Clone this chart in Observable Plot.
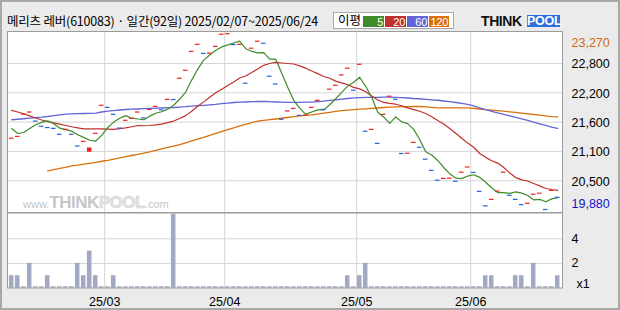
<!DOCTYPE html>
<html><head><meta charset="utf-8">
<script src="https://cdn.jsdelivr.net/npm/d3@7"></script>
<script src="https://cdn.jsdelivr.net/npm/@observablehq/plot@0.6"></script>
<style>
html,body{margin:0;padding:0;background:#ebebeb;}
#wrap{position:relative;width:620px;height:310px;background:#ebebeb;overflow:hidden;font-family:"Noto Sans CJK KR","Noto Sans",sans-serif;}
.abs{position:absolute;}
#border{position:absolute;left:0;top:0;width:620px;height:310px;box-sizing:border-box;border:2px solid #a8a8a8;pointer-events:none;}
#title{left:7px;top:13px;font-size:12.5px;line-height:16px;color:#000;white-space:nowrap;letter-spacing:-0.2px;}
#legend{left:333px;top:12px;width:121px;height:17px;box-sizing:border-box;border:1px solid #a8a8a8;background:#fff;}
#legend .lab{position:absolute;left:4px;top:-1px;font-size:12.5px;line-height:16px;color:#000;}
#legend .box{position:absolute;top:2.5px;height:11.5px;color:#fff;font-family:"Liberation Sans",Arial,sans-serif;font-size:11px;line-height:12px;text-align:right;box-sizing:border-box;padding-right:1px;letter-spacing:-0.3px;}
#logo{left:481px;top:13px;height:16px;}
#logo .think{position:absolute;left:0;top:0;font-family:"Liberation Sans",Arial,sans-serif;font-weight:bold;font-size:14px;line-height:16px;color:#111;letter-spacing:-0.4px;}
#logo .pool{position:absolute;left:46px;top:2px;width:33px;height:12px;background:#2f6fe0;color:#fff;font-family:"Liberation Sans",Arial,sans-serif;font-weight:bold;font-size:12.5px;line-height:12px;text-align:center;letter-spacing:-0.3px;}
#wm{left:23px;top:193px;color:#c6c6c6;font-family:"Liberation Sans",Arial,sans-serif;white-space:nowrap;}
#wm .s{font-size:11px;}
#wm .b{font-size:17px;font-weight:bold;letter-spacing:-0.5px;}
#wm .p{font-size:17px;font-weight:bold;color:#e6e6e6;-webkit-text-stroke:0.6px #cfcfcf;letter-spacing:-0.5px;}
</style></head><body>
<div id="wrap">
  <div id="price" class="abs" style="left:0;top:0"></div>
  <div id="volume" class="abs" style="left:0;top:212px"></div>
  <div id="title" class="abs">메리츠 레버(610083) · 일간(92일) 2025/02/07~2025/06/24</div>
  <div id="legend" class="abs"></div>
  <div id="logo" class="abs"><span class="think">THINK</span><span class="pool">POOL</span></div>
  <div id="wm" class="abs"><span class="s">www.</span><span class="b">THINK</span><span class="p">POOL</span><span class="s">.com</span></div>
  <div id="border"></div>
</div>
<script>
// ---- data ----
const startDate = "2025-02-07";
const endDate = "2025-06-24";
const holidays = ["2025-03-03","2025-05-01","2025-05-05","2025-05-06","2025-06-03","2025-06-06"];

const closes = [
21255,21290,21720,21760,21585,21485,21460,21445,21330,21425,
21330,21105,21195,21065,21350,21890,21850,21715,21450,21600,
21640,21760,21645,21810,21870,21800,22005,22000,22410,22565,
22930,23065,22890,22895,23025,23260,23270,23060,23065,22315,
22990,23125,23085,22450,22300,21620,21780,21830,21695,21700,
21850,21985,21810,22200,22275,22475,22605,22180,22680,21390,
21425,21155,21715,22065,22005,20960,20965,21175,21080,20850,
20635,20445,20480,20485,20425,20600,20700,20595,20230,19950,
20075,20235,20600,20155,20075,19975,20000,20175,20195,19880,
20250,20115];

const opens = [
21255,21290,21720,21760,21585,21485,21460,21445,21330,21425,
21330,21105,21195,21005,21350,21890,21850,21715,21450,21600,
21640,21760,21645,21810,21870,21800,22005,22000,22410,22565,
22930,23065,22890,22895,23025,23260,23270,23060,23065,22315,
22990,23125,23085,22450,22300,21620,21780,21830,21695,21700,
21850,21985,21810,22200,22275,22475,22605,22180,22680,21390,
21425,21155,21715,22065,22005,20960,20965,21175,21080,20850,
20635,20445,20480,20485,20425,20600,20700,20595,20230,19950,
20075,20235,20600,20155,20075,19975,20000,20175,20195,19880,
20250,20115];

const ma5 = [
21450,21355,21375,21450,21525,21570,21600,21545,21460,21430,
21400,21330,21280,21225,21210,21320,21470,21575,21650,21700,
21650,21635,21620,21690,21745,21775,21825,21900,22020,22155,
22385,22595,22770,22870,22960,23025,23065,23100,23135,22990,
22940,22910,22915,22790,22790,22515,22245,21995,21845,21725,
21770,21810,21810,21910,22025,22150,22270,22345,22440,22265,
22055,21765,21675,21550,21675,21580,21545,21435,21240,21005,
20940,20835,20700,20580,20495,20485,20535,20560,20510,20415,
20310,20215,20215,20200,20230,20205,20160,20075,20085,20040,
20095,20120];

const ma20 = [
21800,21770,21735,21695,21655,21615,21585,21560,21535,21510,
21485,21465,21445,21445,21445,21445,21440,21435,21450,21465,
21485,21510,21505,21510,21520,21535,21565,21595,21645,21700,
21785,21880,21965,22055,22140,22210,22280,22350,22425,22465,
22530,22600,22670,22705,22725,22715,22705,22695,22660,22615,
22560,22510,22455,22420,22365,22330,22295,22245,22215,22160,
22080,22000,21955,21935,21920,21890,21850,21815,21785,21740,
21680,21605,21540,21450,21360,21265,21170,21090,20970,20895,
20830,20785,20700,20595,20505,20460,20440,20390,20345,20295,
20275,20260];

const ma60 = [
21620,21630,21640,21650,21660,21670,21683,21700,21716,21730,
21735,21737,21741,21745,21747,21770,21785,21795,21808,21818,
21824,21828,21834,21838,21843,21847,21853,21857,21865,21872,
21882,21891,21899,21909,21918,21930,21942,21953,21959,21963,
21969,21972,21972,21969,21963,21959,21957,21957,21957,21959,
21959,21969,21980,21992,22003,22017,22030,22042,22046,22050,
22052,22053,22055,22055,22052,22046,22040,22030,22025,22015,
22005,21996,21982,21969,21953,21938,21918,21886,21847,21814,
21784,21751,21722,21695,21668,21639,21606,21573,21543,21510,
21479,21456];

const ma120 = [
null,null,null,null,null,null,20636,20658,20681,20704,
20729,20746,20764,20781,20800,20820,20839,20862,20885,20908,
20931,20954,20976,21001,21030,21059,21086,21111,21143,21176,
21211,21246,21280,21317,21356,21392,21429,21465,21500,21533,
21564,21593,21608,21622,21635,21649,21664,21681,21697,21706,
21714,21730,21747,21764,21782,21795,21807,21816,21824,21832,
21839,21847,21857,21865,21870,21872,21874,21876,21876,21868,
21859,21851,21851,21851,21851,21851,21851,21841,21828,21814,
21805,21795,21785,21774,21762,21749,21735,21722,21708,21695,
21681,21674];

const volumes = [
1,1,0,2,0,0,1,0,0,0,
0,2,1,3,1,0,0,1,0,0,
0,0,0,0,0,0,0,6,0,0,
0,0,0,0,0,0,0,0,0,0,
0,0,0,0,0,0,0,0,0,0,
0,0,0,0,0,0,1,0,1,2,
0,0,0,0,0,0,0,0,0,0,
0,0,0,0,0,0,0,0,0,1,
1,0,0,0,1,1,0,2,0,0,
0,1];

const gridValues = [22705, 22140, 21575, 21010, 20445];
const gridLabels = ["22,800", "22,200", "21,600", "21,100", "20,500"];
const volTicks = [2, 4];
const volLabels = ["2", "4"];
const volUnit = "x1";
const monthLabels = ["25/03", "25/04", "25/05", "25/06"];
const legendLabel = "이평";
const legendItems = ["5", "20", "60", "120"];

// ---- styling ----
const C5 = "#3f8b29", C20 = "#c0302c", C60 = "#6464d8", C120 = "#d8700c";
const legendColors = [C5, C20, C60, C120];
const UP = "#f41e1e", DOWN = "#2062e6", VOL = "#a2a9c2", GRID = "#d6d6d6", FRAME = "#9c9c9c";
const FONT = "'Liberation Sans', Arial, sans-serif";

// ---- trading dates ----
const dates = [];
for (let d = new Date(startDate + "T00:00:00Z"); d <= new Date(endDate + "T00:00:00Z"); d.setUTCDate(d.getUTCDate() + 1)) {
  const wd = d.getUTCDay(), s = d.toISOString().slice(0, 10);
  if (wd !== 0 && wd !== 6 && !holidays.includes(s)) dates.push(s);
}

const days = dates.map((date, i) => ({
  i, date, open: opens[i], close: closes[i], vol: volumes[i],
  ma5: ma5[i], ma20: ma20[i], ma60: ma60[i], ma120: ma120[i]
}));
days.forEach((d, k) => {
  d.up = d.close > d.open ? true : d.close < d.open ? false : (k === 0 ? true : d.close >= closes[k - 1]);
});

const monthBounds = [];
for (let k = 1; k < dates.length; k++) if (dates[k].slice(5, 7) !== dates[k - 1].slice(5, 7)) monthBounds.push(k - 0.5);

const xDomain = [-0.7, dates.length - 0.2];
const fmt = d3.format(",");

const price = Plot.plot({
  width: 620, height: 213,
  marginLeft: 7, marginRight: 58, marginTop: 31, marginBottom: 1,
  x: {domain: xDomain, axis: null, label: null},
  y: {domain: [19832, 23322], label: null},
  style: {background: "transparent", fontFamily: FONT, fontSize: "12.5px", color: "#000", overflow: "visible"},
  marks: [
    Plot.frame({fill: "#fff", stroke: "none"}),
    Plot.ruleY(gridValues, {stroke: GRID}),
    Plot.ruleX(monthBounds, {stroke: GRID}),
    Plot.lineY(days, {x: "i", y: "ma120", stroke: C120, strokeWidth: 1.3}),
    Plot.lineY(days, {x: "i", y: "ma60", stroke: C60, strokeWidth: 1.3}),
    Plot.lineY(days, {x: "i", y: "ma20", stroke: C20, strokeWidth: 1.2}),
    Plot.lineY(days, {x: "i", y: "ma5", stroke: C5, strokeWidth: 1.2}),
    Plot.rect(days, {x1: d => d.i - 0.38, x2: d => d.i + 0.38, y1: "open", y2: "close",
      fill: d => d.up ? UP : DOWN, insetTop: -0.6, insetBottom: -0.6}),
    Plot.axisY(gridValues, {anchor: "right", tickSize: 0, tickPadding: 9, dy: 1, label: null,
      tickFormat: d => gridLabels[gridValues.indexOf(d)]}),
    Plot.text([fmt(d3.max(closes))], {frameAnchor: "top-right", dx: 9, dy: 7, textAnchor: "start", fill: "#d06a10"}),
    Plot.text([fmt(d3.min(closes))], {frameAnchor: "bottom-right", dx: 9, dy: -5, textAnchor: "start", fill: "#1414c8"}),
    Plot.frame({stroke: FRAME})
  ]
});
document.getElementById("price").append(price);

const volume = Plot.plot({
  width: 620, height: 98,
  marginLeft: 7, marginRight: 58, marginTop: 0.5, marginBottom: 22.5,
  x: {domain: xDomain, label: null},
  y: {domain: [0, 6.1], label: null},
  style: {background: "transparent", fontFamily: FONT, fontSize: "12.5px", color: "#000", overflow: "visible"},
  marks: [
    Plot.frame({fill: "#fff", stroke: "none"}),
    Plot.ruleY(volTicks, {stroke: GRID}),
    Plot.ruleX(monthBounds, {stroke: GRID}),
    Plot.ruleY(days, {y: 0, x1: d => d.i - 0.38, x2: d => d.i + 0.38, stroke: VOL, strokeWidth: 1.5, dy: -1}),
    Plot.rect(days.filter(d => d.vol > 0), {x1: d => d.i - 0.38, x2: d => d.i + 0.38, y1: 0, y2: "vol", fill: VOL}),
    Plot.axisY(volTicks, {anchor: "right", tickSize: 0, tickPadding: 9, label: null,
      tickFormat: d => volLabels[volTicks.indexOf(d)]}),
    Plot.text([volUnit], {frameAnchor: "bottom-right", dx: 14, textAnchor: "start"}),
    Plot.axisX(monthBounds, {anchor: "bottom", tickSize: 0, tickPadding: 9, label: null,
      tickFormat: d => monthLabels[monthBounds.indexOf(d)]}),
    Plot.frame({stroke: FRAME})
  ]
});
document.getElementById("volume").append(volume);

// legend
const legend = document.getElementById("legend");
const lab = document.createElement("span");
lab.className = "lab"; lab.textContent = legendLabel; legend.append(lab);
const boxX = [29, 51, 73, 95], boxW = [21, 21, 21, 20];
legendItems.forEach((t, k) => {
  const b = document.createElement("div");
  b.className = "box"; b.textContent = t;
  b.style.left = boxX[k] + "px"; b.style.width = boxW[k] + "px"; b.style.background = legendColors[k];
  legend.append(b);
});
</script>
</body></html>
